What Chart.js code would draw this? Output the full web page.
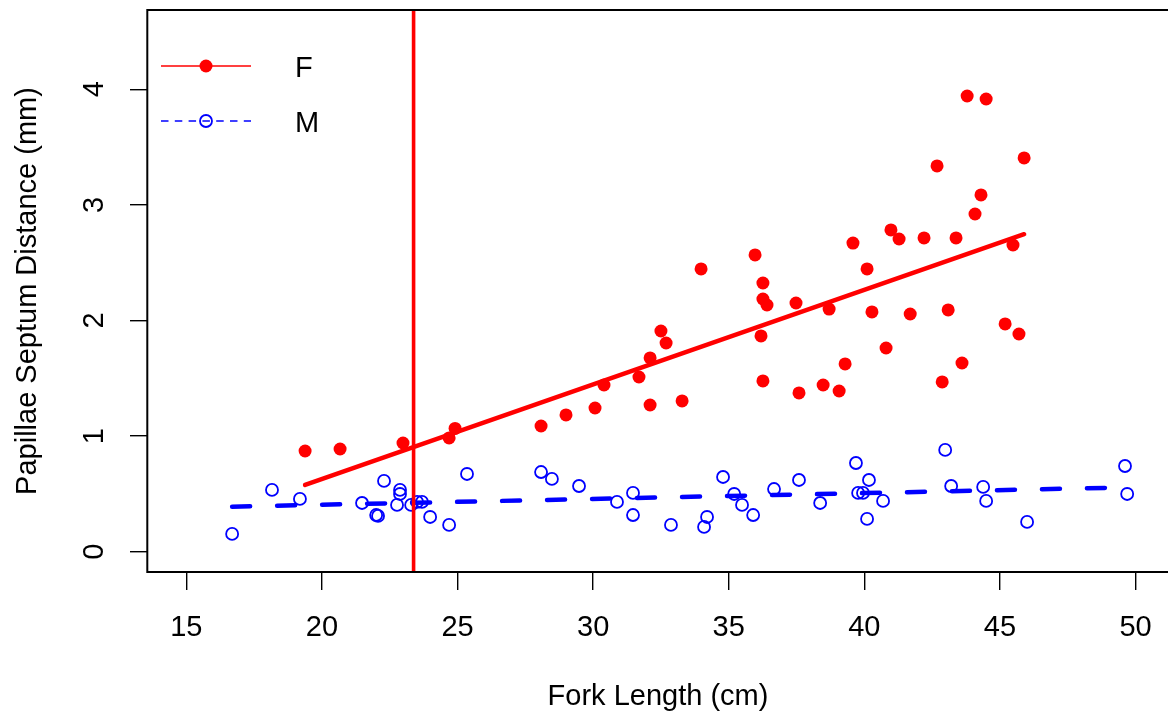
<!DOCTYPE html>
<html>
<head>
<meta charset="utf-8">
<script src="https://cdn.jsdelivr.net/npm/chart.js@4"></script>
<style>
  html, body { margin: 0; padding: 0; background: #fff; }
  #wrap { width: 1168px; height: 715px; }
</style>
</head>
<body>
<div id="wrap"><canvas id="fishChart" width="1168" height="715"></canvas></div>
<script>
// Females (F): fork length (cm) vs papillae septum distance (mm)
const femaleLength = [19.38, 20.67, 22.99, 24.69, 24.91, 28.08, 29.00, 30.07, 30.40, 31.69,
    32.10, 32.10, 32.50, 32.69, 33.28, 33.98, 35.97, 36.26, 36.26, 36.41,
    36.19, 36.26, 37.48, 37.59, 38.48, 38.70, 39.07, 39.29, 39.58, 40.10,
    40.28, 40.80, 40.98, 41.28, 41.69, 42.20, 42.68, 42.87, 43.09, 43.38,
    43.60, 43.79, 44.08, 44.30, 44.49, 45.19, 45.48, 45.70, 45.89];
const femaleDistance = [0.871, 0.888, 0.940, 0.984, 1.066, 1.087, 1.183, 1.243, 1.442, 1.511,
    1.676, 1.269, 1.909, 1.805, 1.304, 2.446, 2.567, 2.324, 2.186, 2.134,
    1.866, 1.477, 2.151, 1.373, 1.442, 2.099, 1.390, 1.624, 2.670, 2.446,
    2.074, 1.762, 2.783, 2.705, 2.056, 2.714, 3.337, 1.468, 2.091, 2.714,
    1.632, 3.942, 2.921, 3.086, 3.916, 1.970, 2.653, 1.883, 3.406];

// Males (M)
const maleLength = [16.69, 18.16, 19.19, 21.48, 22.29, 22.00, 22.07, 22.77, 22.88, 22.88,
    23.29, 23.51, 23.69, 23.99, 24.69, 25.35, 28.08, 28.48, 29.48, 30.88,
    31.47, 31.47, 32.87, 34.20, 34.09, 34.79, 35.20, 35.49, 35.90, 36.67,
    37.59, 38.37, 39.69, 40.17, 39.77, 39.95, 40.69, 40.10, 42.98, 43.20,
    44.38, 44.49, 46.00, 49.61, 49.69];
const maleDistance = [0.153, 0.534, 0.456, 0.421, 0.612, 0.317, 0.309, 0.404, 0.534, 0.499,
    0.404, 0.430, 0.430, 0.300, 0.231, 0.672, 0.689, 0.629, 0.568, 0.430,
    0.508, 0.317, 0.231, 0.300, 0.214, 0.646, 0.499, 0.404, 0.317, 0.542,
    0.620, 0.421, 0.767, 0.620, 0.508, 0.508, 0.439, 0.283, 0.880, 0.568,
    0.560, 0.439, 0.257, 0.741, 0.499];

// fitted lines (end points) and the vertical marker
const femaleFitLength = [19.38, 45.89];
const femaleFitDistance = [0.577, 2.746];
const maleFitLength = [16.69, 49.72];
const maleFitDistance = [0.389, 0.556];
const cutoffLength = 23.38;

const seriesNames = ['F', 'M'];
const xTicks = [15, 20, 25, 30, 35, 40, 45, 50];
const yTicks = [0, 1, 2, 3, 4];
const xLimits = [13.588, 51.195];
const yLimits = [-0.176, 4.686];

const RED = '#ff0000';
const BLUE = '#0000ff';

function toPoints(xs, ys) {
    return xs.map((x, i) => ({ x: x, y: ys[i] }));
}

Chart.defaults.font.family = "'Liberation Sans', Arial, Helvetica, sans-serif";
Chart.defaults.font.size = 29;
Chart.defaults.color = '#000';

// R style box round the plot region (right side falls off the page)
const plotBox = {
    id: 'plotBox',
    afterDatasetsDraw(chart) {
        const a = chart.chartArea, ctx = chart.ctx;
        ctx.save();
        ctx.strokeStyle = '#000';
        ctx.lineWidth = 2;
        ctx.strokeRect(a.left - 0.7, a.top, a.right - a.left + 6, a.bottom - a.top);
        ctx.restore();
    }
};

// legend in the corner, like legend(..., bty = "n")
const cornerLegend = {
    id: 'cornerLegend',
    afterDraw(chart) {
        const a = chart.chartArea, ctx = chart.ctx;
        const rows = [
            { name: seriesNames[0], y: a.top + 56, color: RED, dash: [], filled: true },
            { name: seriesNames[1], y: a.top + 111, color: BLUE, dash: [7.5, 6.3], filled: false }
        ];
        ctx.save();
        rows.forEach(r => {
            ctx.strokeStyle = r.color;
            ctx.lineWidth = 1.5;
            ctx.setLineDash(r.dash);
            ctx.beginPath();
            ctx.moveTo(a.left + 13, r.y);
            ctx.lineTo(a.left + 103, r.y);
            ctx.stroke();
            ctx.setLineDash([]);
            ctx.beginPath();
            ctx.arc(a.left + 58, r.y, r.filled ? 6.5 : 6, 0, Math.PI * 2);
            if (r.filled) {
                ctx.fillStyle = r.color;
                ctx.fill();
            } else {
                ctx.lineWidth = 1.8;
                ctx.stroke();
            }
            ctx.fillStyle = '#000';
            ctx.font = "29px 'Liberation Sans', Arial, sans-serif";
            ctx.textAlign = 'left';
            ctx.textBaseline = 'alphabetic';
            ctx.fillText(r.name, a.left + 147, r.y + 10.5);
        });
        ctx.restore();
    }
};

const gridOpts = { drawOnChartArea: false, color: '#000', lineWidth: 1.4, tickLength: 18 };

new Chart(document.getElementById('fishChart'), {
    type: 'scatter',
    data: {
        datasets: [
            {
                label: 'cutoff',
                data: [{ x: cutoffLength, y: yLimits[0] }, { x: cutoffLength, y: yLimits[1] }],
                showLine: true, borderColor: RED, borderWidth: 3.6, pointRadius: 0
            },
            {
                label: seriesNames[0] + ' fit',
                data: toPoints(femaleFitLength, femaleFitDistance),
                showLine: true, borderColor: RED, borderWidth: 4.5, borderCapStyle: 'round', pointRadius: 0
            },
            {
                label: seriesNames[1] + ' fit',
                data: toPoints(maleFitLength, maleFitDistance),
                showLine: true, borderColor: BLUE, borderWidth: 4.5, borderCapStyle: 'round',
                borderDash: [18, 27], pointRadius: 0
            },
            {
                label: seriesNames[0],
                data: toPoints(femaleLength, femaleDistance),
                pointRadius: 6.5, pointBackgroundColor: RED, pointBorderWidth: 0
            },
            {
                label: seriesNames[1],
                data: toPoints(maleLength, maleDistance),
                pointRadius: 6, pointBackgroundColor: 'rgba(0,0,0,0)',
                pointBorderColor: BLUE, pointBorderWidth: 1.8
            }
        ]
    },
    options: {
        responsive: false,
        animation: false,
        events: [],
        devicePixelRatio: 1,
        layout: { autoPadding: false, padding: { top: 10, left: 0, right: 0, bottom: 0 } },
        plugins: { legend: { display: false }, tooltip: { enabled: false } },
        scales: {
            x: {
                type: 'linear', position: 'bottom',
                min: xLimits[0], max: xLimits[1],
                afterBuildTicks: s => { s.ticks = xTicks.map(v => ({ value: v })); },
                afterFit: s => { s.height = 143; s.paddingLeft = 0; s.paddingRight = 0; },
                grid: gridOpts,
                border: { display: false },
                ticks: { padding: 21, maxRotation: 0, autoSkip: false },
                title: { display: true, text: 'Fork Length (cm)', padding: { top: 0, bottom: 1 } }
            },
            y: {
                type: 'linear', position: 'left',
                min: yLimits[0], max: yLimits[1],
                afterBuildTicks: s => { s.ticks = yTicks.map(v => ({ value: v })); },
                afterFit: s => { s.width = 148; s.paddingTop = 0; s.paddingBottom = 0; },
                grid: gridOpts,
                border: { display: false },
                ticks: { minRotation: 90, maxRotation: 90, crossAlign: 'center', padding: 27, autoSkip: false },
                title: { display: true, text: 'Papillae Septum Distance (mm)', padding: { top: 10.6, bottom: 0 } }
            }
        }
    },
    plugins: [plotBox, cornerLegend]
});
</script>
</body>
</html>
